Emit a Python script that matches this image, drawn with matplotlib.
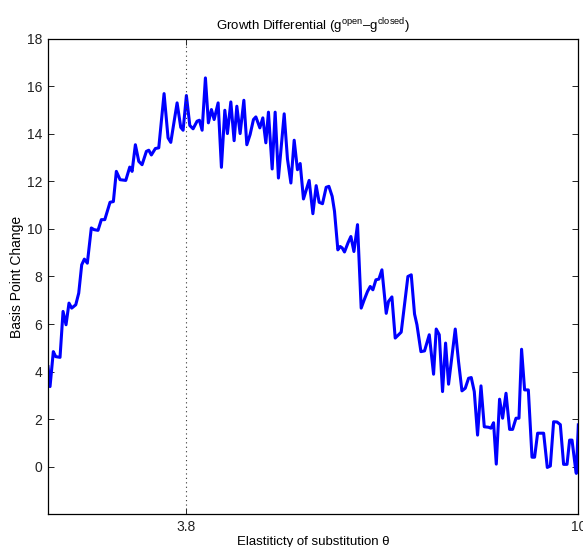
"""Growth differential vs elasticity of substitution."""

import matplotlib
matplotlib.use('Agg')
import matplotlib.pyplot as plt

# Elasticity of substitution (theta) and basis point change
theta = [
    1.611, 1.643, 1.695, 1.733, 1.801, 1.849, 1.896, 1.943, 1.986, 2.050,
    2.097, 2.144, 2.186, 2.233, 2.296, 2.339, 2.402, 2.455, 2.509, 2.592,
    2.645, 2.692, 2.751, 2.841, 2.904, 2.941, 2.993, 3.047, 3.099, 3.167,
    3.205, 3.246, 3.309, 3.363, 3.447, 3.510, 3.553, 3.653, 3.711, 3.748,
    3.800, 3.854, 3.906, 3.969, 4.006, 4.049, 4.101, 4.148, 4.196, 4.239,
    4.302, 4.354, 4.408, 4.449, 4.503, 4.555, 4.598, 4.650, 4.709, 4.756,
    4.808, 4.861, 4.899, 4.962, 5.009, 5.057, 5.098, 5.157, 5.204, 5.256,
    5.347, 5.399, 5.453, 5.505, 5.557, 5.600, 5.652, 5.742, 5.801, 5.853,
    5.900, 5.953, 6.011, 6.054, 6.106, 6.143, 6.196, 6.233, 6.265, 6.301,
    6.359, 6.402, 6.450, 6.507, 6.565, 6.613, 6.665, 6.708, 6.750, 6.798,
    6.845, 6.893, 6.961, 6.997, 7.051, 7.103, 7.198, 7.304, 7.357, 7.409,
    7.447, 7.510, 7.567, 7.642, 7.710, 7.752, 7.800, 7.852, 7.900, 7.947,
    8.053, 8.105, 8.159, 8.211, 8.264, 8.306, 8.354, 8.406, 8.460, 8.512,
    8.580, 8.618, 8.659, 8.702, 8.754, 8.802, 8.856, 8.913, 8.960, 9.014,
    9.061, 9.102, 9.150, 9.209, 9.267, 9.308, 9.356, 9.451, 9.509, 9.557,
    9.609, 9.663, 9.715, 9.767, 9.821, 9.862, 9.900, 9.952, 9.968, 10.0,
]
bp_change = [
    4.21, 3.37, 4.84, 4.63, 4.60, 6.53, 5.97, 6.88, 6.67, 6.81,
    7.30, 8.49, 8.73, 8.56, 10.04, 9.97, 9.94, 10.39, 10.39, 11.12,
    11.15, 12.42, 12.07, 12.04, 12.60, 12.42, 13.54, 12.84, 12.70, 13.26,
    13.31, 13.11, 13.38, 13.41, 15.69, 13.83, 13.64, 15.30, 14.27, 14.15,
    15.61, 14.35, 14.21, 14.53, 14.57, 14.15, 16.35, 14.46, 15.02, 14.60,
    15.30, 12.59, 14.99, 14.01, 15.34, 13.71, 15.16, 14.01, 15.41, 13.54,
    13.97, 14.60, 14.71, 14.25, 14.67, 13.62, 14.91, 12.52, 14.91, 12.14,
    14.84, 12.94, 11.93, 13.73, 12.49, 12.75, 11.26, 12.04, 10.64, 11.82,
    11.12, 11.06, 11.75, 11.79, 11.37, 10.74, 9.12, 9.26, 9.20, 9.03,
    9.43, 9.68, 9.05, 10.18, 6.67, 7.02, 7.37, 7.58, 7.44, 7.86,
    7.89, 8.28, 6.45, 6.95, 7.14, 5.41, 5.66, 8.00, 8.07, 6.42,
    5.97, 4.84, 4.87, 5.55, 3.89, 5.79, 5.55, 3.16, 5.20, 3.47,
    5.79, 4.42, 3.19, 3.30, 3.72, 3.75, 3.16, 1.33, 3.40, 1.68,
    1.66, 1.62, 1.85, 0.11, 2.84, 2.04, 3.09, 1.57, 1.57, 2.04,
    2.04, 4.94, 3.23, 3.23, 0.40, 0.40, 1.41, 1.41, -0.03, 0.03,
    1.89, 1.88, 1.77, 0.10, 0.10, 1.12, 1.12, 0.00, -0.28, 1.76,
]

theta_marker = 3.8
x_ticks = [3.8, 10]
x_tick_labels = ['3.8', '10']
y_ticks = [0, 2, 4, 6, 8, 10, 12, 14, 16, 18]

plt.rcParams['font.family'] = ['Liberation Sans', 'DejaVu Sans']
plt.rcParams['mathtext.fontset'] = 'custom'
plt.rcParams['mathtext.rm'] = 'Liberation Sans'
plt.rcParams['mathtext.it'] = 'Liberation Sans:italic'

fig = plt.figure(figsize=(5.83, 5.47), dpi=100)
ax = fig.add_axes([0.0818, 0.0598, 0.9102, 0.8695])

ax.plot(theta, bp_change, color='#0000ff', linewidth=2.2)
ax.axvline(theta_marker, color='#333333', linestyle=(0, (1, 3)), linewidth=0.8)

ax.set_xlim(1.606, 10)
ax.set_ylim(-2, 18)
ax.set_xticks(x_ticks)
ax.set_xticklabels(x_tick_labels)
ax.set_yticks(y_ticks)

ax.tick_params(direction='in', length=4, width=0.7, top=True, right=True,
               labelsize=10, pad=4, colors='#222222')
for spine in ax.spines.values():
    spine.set_linewidth(0.9)
    spine.set_color('black')

ax.set_title('Growth Differential (g$^{\\rm open}$\u2013g$^{\\rm closed}$)',
             fontsize=9.5, pad=6)
ax.set_ylabel('Basis Point Change', fontsize=10, labelpad=2)
ax.set_xlabel('Elastiticty of substitution \u03b8', fontsize=9.5, labelpad=1.5)

fig.savefig('out.png', dpi=100)
plt.close(fig)
